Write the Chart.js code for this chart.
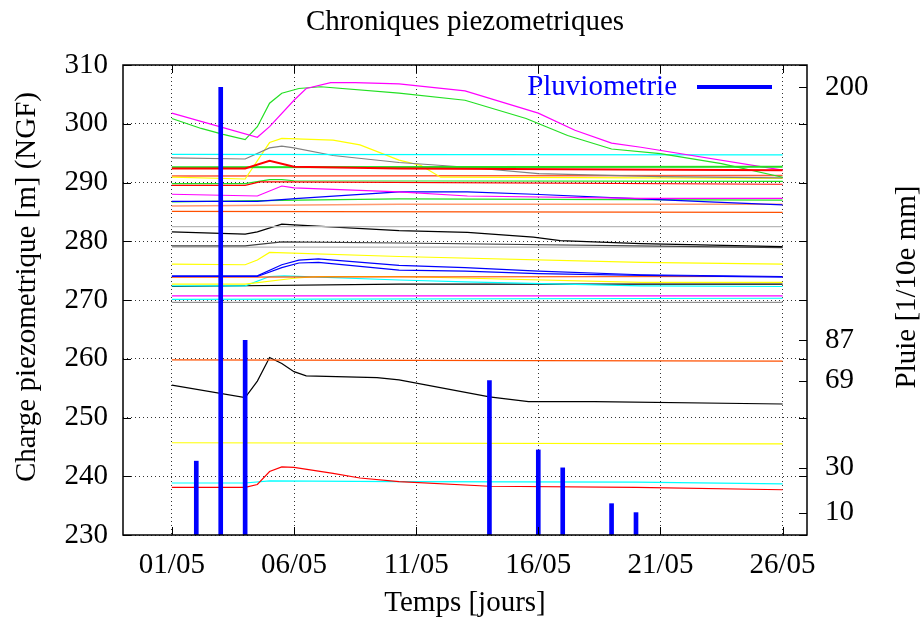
<!DOCTYPE html>
<html>
<head>
<meta charset="utf-8">
<script src="https://cdn.jsdelivr.net/npm/chart.js@4.4.0/dist/chart.umd.min.js"></script>
<style>
html, body { margin: 0; padding: 0; background: #fff; }
</style>
</head>
<body>
<canvas id="graphe" width="921" height="619"></canvas>
<script>
// graduations
var jours = [0, 5, 10, 15, 20, 25];
var chargeTicks = [230, 240, 250, 260, 270, 280, 290, 300, 310];
var pluieTicks = [10, 30, 69, 87, 200];

// pluviometrie (jour depuis le 01/05, 1/10e mm)
var pluieJours = [1, 2, 3, 13, 15, 16, 18, 19];
var pluieValeurs = [33, 200, 87, 69, 38, 30, 14, 10];

// chroniques piezometriques [jour, charge]
var p01 = [[0,301.8],[3.5,297.7],[4,299.5],[5,304.0],[5.5,306.0],[6.5,307.0],[7.5,307.0],[9.3,306.8],[12,305.6],[15,301.8],[16.5,298.9],[18,296.7],[19.2,296.0],[25,292.1]];
var p02 = [[0,300.9],[1.2,299.2],[2.1,298.2],[3,297.3],[3.5,299.5],[4,303.5],[4.5,305.2],[5.2,306.0],[6.1,306.3],[9.3,305.2],[12,304.0],[14.5,300.9],[16.2,298.0],[18,295.7],[20,294.9],[22.5,293.2],[25,290.9]];
var p03 = [[0,294.8],[25,294.7]];
var p04 = [[0,294.2],[3,294.0],[4,295.9],[4.5,296.2],[5,295.9],[6.6,294.6],[9.3,293.4],[12.1,292.6],[15,291.5],[20,291.0],[25,290.8]];
var p05 = [[0,290.9],[3,290.6],[4,296.8],[4.5,297.5],[6.6,297.2],[7.7,296.4],[9.3,293.8],[10.2,292.9],[11,290.9],[25,290.7]];
var p06 = [[0,292.4],[3,292.4],[4,293.7],[5,292.7],[9.3,292.4],[25,292.1]];
var p07 = [[0,292.6],[25,292.7]];
var p08 = [[0,291.1],[25,291.2]];
var p09 = [[0,289.5],[3,289.5],[3.6,290.1],[4.5,290.1],[25,289.7]];
var p10 = [[0,289.8],[3,289.8],[4,290.5],[4.5,290.5],[5,290.3],[25,290.2]];
var p11 = [[0,288.0],[3.5,287.7],[4.5,289.4],[5,289.1],[9.3,288.4],[12.1,287.7],[19.2,287.3],[25,287.3]];
var p12 = [[0,286.8],[3.5,286.8],[5.2,287.3],[9.3,288.4],[12.1,288.4],[14.8,288.0],[19.2,287.2],[22,286.7],[25,286.2]];
var p13 = [[0,286.7],[5.2,287.0],[9.3,287.2],[25,287.0]];
var p14 = [[0,286.0],[9.3,286.3],[25,286.3]];
var p15 = [[0,285.1],[25,284.9]];
var p16 = [[0,282.5],[25,282.5]];
var p17 = [[0,281.6],[3,281.2],[3.5,281.6],[4.5,282.9],[5,282.8],[9.3,281.8],[12.1,281.5],[14.8,280.7],[15.9,280.1],[19.2,279.6],[25,279.1]];
var p18 = [[0,279.2],[3,279.2],[4.5,279.9],[9.3,279.7],[25,278.9]];
var p19 = [[0,279.0],[25,279.0]];
var p20 = [[0,276.1],[3,276.0],[3.5,276.8],[4,278.1],[9.3,277.4],[19.2,276.4],[25,276.1]];
var p21 = [[0,274.1],[3.5,274.1],[4.5,276.0],[5.2,276.8],[6,277.0],[9.3,275.9],[12,275.5],[15,274.9],[19.2,274.3],[25,274.0]];
var p22 = [[0,274.0],[3.5,274.0],[4.5,275.5],[5.2,276.3],[6,276.4],[9.3,275.1],[12,274.9],[15,274.5],[19.2,274.2],[25,273.9]];
var p23 = [[0,273.9],[25,274.0]];
var p24 = [[0,272.7],[3,272.7],[5,273.7],[6,274.0],[9.3,274.0],[19.2,273.0],[25,273.0]];
var p25 = [[0,272.4],[3,272.4],[4,274.0],[4.6,274.1],[9.3,273.4],[12,273.1],[19.2,272.4],[25,272.3]];
var p26 = [[0,272.3],[9.3,272.7],[25,272.7]];
var p27 = [[0,270.7],[25,270.7]];
var p28 = [[0,270.1],[25,270.3]];
var p29 = [[0,269.6],[25,269.6]];
var p30 = [[0,259.8],[25,259.6]];
var p31 = [[0,255.5],[3,253.4],[3.5,256.2],[4,260.2],[4.5,259.2],[5,257.8],[5.5,257.1],[8.4,256.8],[9.3,256.4],[13,253.5],[14.6,252.7],[17.3,252.7],[25,252.3]];
var p32 = [[0,245.7],[25,245.5]];
var p33 = [[0,238.1],[3,238.1],[3.5,238.6],[4,240.8],[4.5,241.6],[5,241.5],[6.6,240.5],[7.7,239.7],[9.3,239.1],[13,238.3],[19,238.1],[25,237.7]];
var p34 = [[0,238.85],[3,238.85],[4,239.2],[9.3,239.1],[19,239.0],[25,238.7]];

// serie, couleur, epaisseur
var piezos = [
	[p06, '#ff0000', 2], [p07, '#22e022', 2],
	[p01, '#ff00ff', 1.2], [p02, '#22e022', 1.2], [p03, '#00ffff', 1.2], [p04, '#808080', 1.2],
	[p05, '#ffff00', 1.2], [p08, '#ff5a3a', 1.5], [p09, '#ff0000', 1.2], [p10, '#22e022', 1.2],
	[p11, '#ff00ff', 1.2], [p12, '#0000ff', 1.2], [p13, '#22e022', 1.2], [p14, '#ff9a70', 1.5],
	[p15, '#ff5000', 1.2], [p16, '#b8b8b8', 1.2], [p17, '#000000', 1.2], [p18, '#404040', 1.2],
	[p19, '#b8b8b8', 1.2], [p20, '#ffff00', 1.2], [p21, '#0000ff', 1.2], [p22, '#0000ff', 1.2],
	[p23, '#ff5000', 1.2], [p24, '#ffff00', 1.2], [p25, '#00ffff', 1.2], [p26, '#000000', 1.2],
	[p27, '#ff00ff', 1.2], [p28, '#00ffff', 1.2], [p29, '#909090', 1.2], [p30, '#ff5000', 1.2],
	[p31, '#000000', 1.2], [p32, '#ffff00', 1.2], [p33, '#ff0000', 1.2], [p34, '#00ffff', 1.2]
];

var police = "'Liberation Serif', 'Times New Roman', serif";
var taille = 29;

function dateLabel(j) {
	var d = j + 1;
	return (d < 10 ? '0' + d : '' + d) + '/05';
}

var datasets = [{
	type: 'bar',
	label: 'Pluviometrie',
	yAxisID: 'y2',
	data: pluieJours.map(function (j, i) { return {x: j, y: pluieValeurs[i]}; }),
	backgroundColor: '#0000ff',
	barThickness: 4,
	order: -1
}];
piezos.forEach(function (s) {
	datasets.push({
		type: 'line',
		yAxisID: 'y',
		data: s[0].map(function (p) { return {x: p[0], y: p[1]}; }),
		borderColor: s[1],
		borderWidth: s[2],
		pointRadius: 0,
		tension: 0,
		fill: false
	});
});

// cadre, petites graduations, legende, titre et titres des axes verticaux
var cadre = {
	id: 'cadre',
	afterDatasetsDraw: function (chart) {
		var ctx = chart.ctx, a = chart.chartArea;
		var sx = chart.scales.x, sy = chart.scales.y, s2 = chart.scales.y2;
		ctx.save();
		ctx.strokeStyle = '#000';
		ctx.lineWidth = 1;
		ctx.beginPath();
		jours.forEach(function (j) {
			var px = Math.round(sx.getPixelForValue(j)) + 0.5;
			ctx.moveTo(px, a.bottom); ctx.lineTo(px, a.bottom - 8);
			ctx.moveTo(px, a.top); ctx.lineTo(px, a.top + 8);
		});
		chargeTicks.forEach(function (v) {
			var py = Math.round(sy.getPixelForValue(v)) + 0.5;
			ctx.moveTo(a.left, py); ctx.lineTo(a.left + 8, py);
			ctx.moveTo(a.right, py); ctx.lineTo(a.right - 8, py);
		});
		pluieTicks.forEach(function (v) {
			var py = Math.round(s2.getPixelForValue(v)) + 0.5;
			ctx.moveTo(a.right, py); ctx.lineTo(a.right - 8, py);
		});
		ctx.stroke();
		ctx.lineWidth = 1.5;
		ctx.strokeRect(a.left, a.top, a.right - a.left, a.bottom - a.top);

		// legende
		ctx.font = taille + 'px ' + police;
		ctx.fillStyle = '#0000ff';
		ctx.textAlign = 'right';
		ctx.textBaseline = 'middle';
		var ly = a.top + 22;
		ctx.fillText('Pluviometrie', a.right - 130, ly);
		ctx.strokeStyle = '#0000ff';
		ctx.lineWidth = 4;
		ctx.beginPath();
		ctx.moveTo(a.right - 110, ly); ctx.lineTo(a.right - 35, ly);
		ctx.stroke();

		// titre
		ctx.fillStyle = '#000';
		ctx.textAlign = 'center';
		ctx.fillText('Chroniques piezometriques', 465, 22);

		// titres verticaux
		var cy = 287;
		ctx.translate(27, cy);
		ctx.rotate(-Math.PI / 2);
		ctx.fillText('Charge piezometrique [m] (NGF)', 0, 0);
		ctx.setTransform(1, 0, 0, 1, 0, 0);
		ctx.translate(907, cy);
		ctx.rotate(-Math.PI / 2);
		ctx.fillText('Pluie [1/10e mm]', 0, 0);
		ctx.restore();
	}
};

new Chart(document.getElementById('graphe').getContext('2d'), {
	type: 'line',
	data: {datasets: datasets},
	plugins: [cadre],
	options: {
		responsive: false,
		animation: false,
		layout: {padding: {top: 65}},
		plugins: {
			legend: {display: false},
			tooltip: {enabled: false},
			title: {display: false}
		},
		scales: {
			x: {
				type: 'linear',
				min: -2,
				max: 26,
				offset: false,
				afterBuildTicks: function (s) { s.ticks = jours.map(function (v) { return {value: v}; }); },
				afterFit: function (s) { s.height = 84; },
				ticks: {
					color: '#000',
					font: {family: police, size: taille},
					padding: 13,
					maxRotation: 0,
					autoSkip: false,
					callback: function (v) { return dateLabel(v); }
				},
				grid: {color: 'rgba(0,0,0,0.8)', lineWidth: 1, drawTicks: false, offset: false},
				border: {display: false, dash: [1, 3]},
				title: {
					display: true,
					text: 'Temps [jours]',
					color: '#000',
					font: {family: police, size: taille},
					padding: {top: 0, bottom: -2}
				}
			},
			y: {
				position: 'left',
				min: 230,
				max: 310,
				afterBuildTicks: function (s) { s.ticks = chargeTicks.map(function (v) { return {value: v}; }); },
				afterFit: function (s) { s.width = 123; },
				ticks: {color: '#000', font: {family: police, size: taille}, padding: 15},
				grid: {color: 'rgba(0,0,0,0.8)', lineWidth: 1, drawTicks: false},
				border: {display: false, dash: [1, 3]}
			},
			y2: {
				position: 'right',
				min: 0,
				max: 210,
				afterBuildTicks: function (s) { s.ticks = pluieTicks.map(function (v) { return {value: v}; }); },
				afterFit: function (s) { s.width = 114; },
				ticks: {color: '#000', font: {family: police, size: taille}, padding: 18},
				grid: {display: false, drawTicks: false},
				border: {display: false}
			}
		}
	}
});
</script>
</body>
</html>
